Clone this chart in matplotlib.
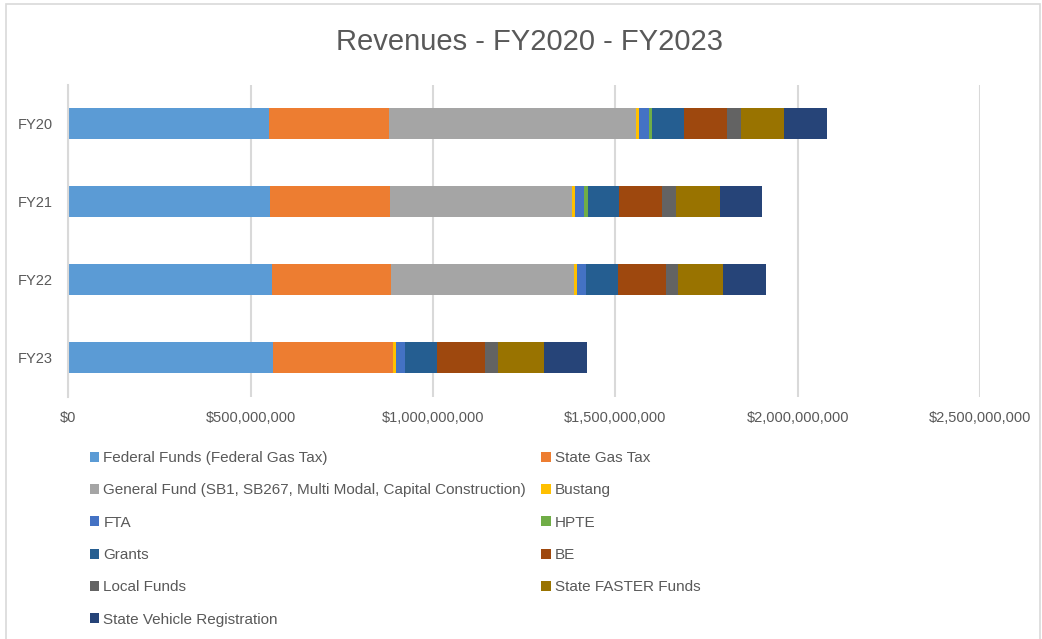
import numpy as np
import matplotlib
matplotlib.use('Agg')
import matplotlib.pyplot as plt
from matplotlib.patches import Rectangle
from matplotlib.ticker import FuncFormatter, MultipleLocator

plt.rcParams['font.family'] = ['Liberation Sans', 'DejaVu Sans']

# Fiscal years, top to bottom
years = ['FY20', 'FY21', 'FY22', 'FY23']

# Revenue sources (stack order, left to right)
sources = ['Federal Funds (Federal Gas Tax)', 'State Gas Tax',
           'General Fund (SB1, SB267, Multi Modal, Capital Construction)', 'Bustang',
           'FTA', 'HPTE', 'Grants', 'BE', 'Local Funds', 'State FASTER Funds',
           'State Vehicle Registration']

# Values in millions of dollars
federal = [550, 553, 558, 561]
state_gas = [329, 328, 328, 328]
general = [677, 500, 501, 0]
bustang = [8, 8, 7, 9]
fta = [27, 25, 26, 25]
hpte = [9, 10, 0, 0]
grants = [89, 86, 87, 89]
be = [118, 119, 131, 130]
local = [38, 36, 35, 36]
faster = [118, 123, 123, 125]
svr = [117, 115, 117, 118]

series = [federal, state_gas, general, bustang, fta, hpte, grants, be, local, faster, svr]
colors = ['#5B9BD5', '#ED7D31', '#A5A5A5', '#FFC000', '#4472C4', '#70AD47',
          '#255E91', '#9E480E', '#636363', '#997300', '#264478']

W, H = 1042, 639
fig = plt.figure(figsize=(W / 100, H / 100), dpi=100)
ax = fig.add_axes([68.4 / W, 1 - 396.7 / H, (980 - 68.4) / W, (396.7 - 84.7) / H])

# chart area border
fig.patches.append(Rectangle((6 / W, -0.01), (1040 - 6) / W, 1 - 4 / H + 0.01,
                             transform=fig.transFigure, fill=False,
                             edgecolor='#D9D9D9', linewidth=1.2))

y = np.arange(len(years))
left = np.zeros(len(years))
handles = []
for vals, col, name in zip(series, colors, sources):
    vals = np.array(vals, dtype=float) * 1e6
    b = ax.barh(y, vals, left=left, height=0.394, color=col, label=name)
    handles.append(b)
    left += vals

ax.set_xlim(0, 2.5e9)
ax.set_ylim(3.5, -0.5)
ax.set_yticks(y)
ax.set_yticklabels(years)
ax.xaxis.set_major_locator(MultipleLocator(5e8))
ax.xaxis.set_major_formatter(FuncFormatter(lambda v, p: '${:,.0f}'.format(v)))
ax.grid(axis='x', color='#D9D9D9', linewidth=1.5)
ax.set_axisbelow(True)
for s in ['top', 'right', 'bottom']:
    ax.spines[s].set_visible(False)
ax.spines['left'].set_color('#D9D9D9')
ax.spines['left'].set_linewidth(1.5)
ax.tick_params(axis='both', length=0, labelsize=10.5, labelcolor='#595959')
ax.tick_params(axis='y', pad=11.5)
ax.tick_params(axis='x', pad=10.5)

fig.text(530 / W, 1 - 42 / H, 'Revenues - FY2020 - FY2023', ha='center', va='center',
         fontsize=21, color='#595959')

# legend filled row by row in two columns
order = list(range(0, 11, 2)) + list(range(1, 11, 2))
leg = fig.legend([handles[i] for i in order], [sources[i] for i in order], ncol=2,
                 loc='upper left', bbox_to_anchor=(89.6 / W, 1 - 451 / H),
                 frameon=False, fontsize=11, handlelength=0.62, handleheight=0.62,
                 handletextpad=0.28, columnspacing=1.0, labelspacing=1.2,
                 borderpad=0, borderaxespad=0)
for t in leg.get_texts():
    t.set_color('#595959')

fig.savefig('out.png', dpi=100, facecolor='white')
